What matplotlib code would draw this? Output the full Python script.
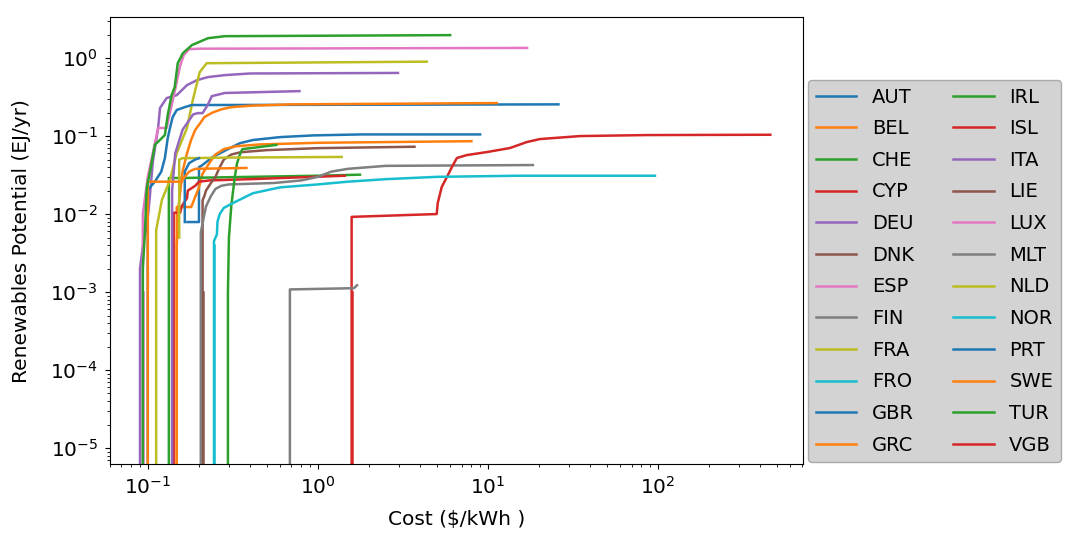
import numpy as np
import matplotlib
matplotlib.use('Agg')
import matplotlib.pyplot as plt

# cumulative supply curves, cost in $/kWh, potential in EJ/yr
countries = ['AUT', 'BEL', 'CHE', 'CYP', 'DEU', 'DNK', 'ESP', 'FIN', 'FRA', 'FRO', 'GBR', 'GRC',
             'IRL', 'ISL', 'ITA', 'LIE', 'LUX', 'MLT', 'NLD', 'NOR', 'PRT', 'SWE', 'TUR', 'VGB']

aut_cost = [0.171, 0.2, 0.2, 0.208, 0.241, 0.265, 0.304, 0.348, 0.415, 0.6, 0.94, 1.8, 9.0]
aut_pot = [0.0079, 0.0079, 0.04, 0.042, 0.054, 0.06, 0.07, 0.081, 0.089, 0.097, 0.102, 0.105, 0.105]

bel_cost = [0.148, 0.148, 0.18, 0.2, 0.21, 0.23, 0.25, 0.28, 0.33, 0.45, 1.0, 8.0]
bel_pot = [0, 0.0123, 0.0123, 0.022, 0.033, 0.045, 0.058, 0.068, 0.074, 0.078, 0.082, 0.086]

che_cost = [0.133, 0.133, 0.16, 0.4, 1.0, 1.77]
che_pot = [0, 0.029, 0.029, 0.03, 0.031, 0.032]

cyp_cost = [0.142, 0.142, 0.155, 0.158, 0.17, 0.172, 0.19, 0.2, 0.23, 0.4, 1.44]
cyp_pot = [0, 0.0104, 0.0104, 0.0125, 0.016, 0.02, 0.023, 0.026, 0.027, 0.028, 0.031]

deu_cost = [0.09, 0.09, 0.095, 0.0986, 0.103, 0.107, 0.115, 0.118, 0.129, 0.148, 0.17, 0.194,
            0.225, 0.284, 0.4, 2.96]
deu_pot = [0, 0.002, 0.005, 0.0066, 0.0175, 0.0465, 0.127, 0.229, 0.307, 0.335, 0.45, 0.52,
           0.57, 0.605, 0.635, 0.645]

dnk_cost = [0.21, 0.21, 0.215, 0.22, 0.235, 0.25, 0.265, 0.28, 0.31, 0.35, 0.5, 1.0, 3.7]
dnk_pot = [0, 0.015, 0.017, 0.02, 0.025, 0.03, 0.04, 0.05, 0.058, 0.062, 0.066, 0.07, 0.073]

esp_cost = [0.0935, 0.0935, 0.1, 0.11, 0.115, 0.129, 0.135, 0.145, 0.155, 0.163, 0.175,
            0.2, 17.0]
esp_pot = [0, 0.01, 0.03, 0.08, 0.127, 0.127, 0.2, 0.4, 0.8, 1.1, 1.3, 1.32, 1.35]

fin_cost = [0.205, 0.205, 0.212, 0.22, 0.235, 0.25, 0.27, 0.3, 0.55, 0.8, 1.0, 1.2, 1.5,
            2.5, 18.4]
fin_pot = [0, 0.0058, 0.0085, 0.0125, 0.017, 0.021, 0.023, 0.024, 0.025, 0.027, 0.03, 0.035,
           0.038, 0.0415, 0.0425]

fra_cost = [0.112, 0.112, 0.121, 0.135, 0.148, 0.17, 0.184, 0.202, 0.222, 4.37]
fra_pot = [0, 0.0062, 0.0151, 0.0273, 0.0605, 0.127, 0.29, 0.66, 0.86, 0.9]

fro_cost = [0.245, 0.245]
fro_pot = [0, 0.004]

gbr_cost = [0.1, 0.1, 0.103, 0.11, 0.12, 0.126, 0.131, 0.135, 0.14, 0.148, 0.165, 0.181, 26.0]
gbr_pot = [0, 0.02, 0.022, 0.026, 0.035, 0.052, 0.094, 0.127, 0.175, 0.216, 0.235, 0.25, 0.255]

grc_cost = [0.148, 0.148, 0.152, 0.16, 0.17, 0.18, 0.19, 0.205, 0.215, 0.24, 0.27, 0.31,
            0.4, 0.7, 11.3]
grc_pot = [0, 0.004, 0.013, 0.035, 0.06, 0.09, 0.12, 0.15, 0.175, 0.2, 0.22, 0.235, 0.245,
           0.255, 0.265]

irl_cost = [0.296, 0.296, 0.3, 0.31, 0.325, 0.335, 0.35, 0.36, 0.57]
irl_pot = [0, 0.001, 0.005, 0.013, 0.03, 0.045, 0.06, 0.068, 0.077]

isl_cost = [1.58, 1.58, 5.0, 5.07, 5.35, 5.74, 6.14, 6.57, 7.53, 9.88, 13.5, 16.9, 20.2,
            34.8, 86.0, 458.0]
isl_pot = [0, 0.0092, 0.01, 0.0138, 0.0222, 0.0298, 0.04, 0.0523, 0.0571, 0.0624, 0.0703,
           0.0837, 0.0915, 0.1, 0.103, 0.104]

ita_cost = [0.139, 0.139, 0.145, 0.16, 0.185, 0.197, 0.21, 0.225, 0.238, 0.284, 0.78]
ita_pot = [0, 0.02, 0.06, 0.12, 0.19, 0.197, 0.197, 0.25, 0.325, 0.357, 0.377]

lie_cost = [0.21, 0.21]
lie_pot = [0, 0.001]

lux_cost = [0.0935, 0.0935]
lux_pot = [0, 0.001]

mlt_cost = [0.685, 0.685, 1.63, 1.7]
mlt_pot = [0, 0.00108, 0.00112, 0.00122]

nld_cost = [0.153, 0.153, 0.16, 0.3, 1.38]
nld_pot = [0.005, 0.05, 0.052, 0.053, 0.054]

nor_cost = [0.245, 0.245, 0.255, 0.257, 0.265, 0.28, 0.316, 0.415, 0.6, 1.0, 1.5, 2.5, 5.0,
            15.0, 96.0]
nor_pot = [0, 0.0045, 0.0055, 0.008, 0.01, 0.012, 0.0138, 0.0185, 0.022, 0.024, 0.026,
           0.028, 0.03, 0.031, 0.031]

prt_cost = [0.165, 0.165, 0.175, 0.19, 0.2]
prt_pot = [0.0079, 0.035, 0.045, 0.05, 0.052]

swe_cost = [0.1, 0.1, 0.158, 0.165, 0.175, 0.19, 0.38]
swe_pot = [0, 0.026, 0.026, 0.03, 0.035, 0.038, 0.039]

tur_cost = [0.0935, 0.0935, 0.096, 0.0986, 0.103, 0.11, 0.126, 0.131, 0.138, 0.144, 0.15,
            0.161, 0.182, 0.226, 0.284, 6.0]
tur_pot = [0, 0.002, 0.0054, 0.0216, 0.0346, 0.077, 0.103, 0.186, 0.335, 0.425, 0.86,
           1.16, 1.47, 1.8, 1.91, 1.97]

vgb_cost = [1.58, 1.58]
vgb_pot = [0, 0.001]

costs = [aut_cost, bel_cost, che_cost, cyp_cost, deu_cost, dnk_cost, esp_cost, fin_cost,
         fra_cost, fro_cost, gbr_cost, grc_cost, irl_cost, isl_cost, ita_cost, lie_cost,
         lux_cost, mlt_cost, nld_cost, nor_cost, prt_cost, swe_cost, tur_cost, vgb_cost]
pots = [aut_pot, bel_pot, che_pot, cyp_pot, deu_pot, dnk_pot, esp_pot, fin_pot,
        fra_pot, fro_pot, gbr_pot, grc_pot, irl_pot, isl_pot, ita_pot, lie_pot,
        lux_pot, mlt_pot, nld_pot, nor_pot, prt_pot, swe_pot, tur_pot, vgb_pot]

plt.rcParams['font.size'] = 14

fig = plt.figure(figsize=(10.65, 5.36), dpi=100)
ax = fig.add_axes([0.103, 0.134, 0.651, 0.834])

for name, c, p in zip(countries, costs, pots):
    ax.plot(c, p, label=name, lw=1.8)

ax.set_xscale('log')
ax.set_yscale('log')
ax.set_xlim(0.0597, 713)
ax.set_ylim(6.2e-6, 3.35)
ax.tick_params(axis='both', which='major', labelsize=14.5, pad=5)
ax.set_xlabel('Cost ($/kWh )', fontsize=14.5, labelpad=9)
ax.set_ylabel('Renewables Potential (EJ/yr)', fontsize=14.5, labelpad=14)

leg = ax.legend(ncol=2, loc='lower left', bbox_to_anchor=(1.007, 0.004), borderaxespad=0,
                fontsize=14, labelspacing=0.65, handlelength=2.1, columnspacing=2.0,
                facecolor='#d3d3d3', edgecolor='#aaaaaa', framealpha=1)

fig.savefig('out.png', dpi=100)
